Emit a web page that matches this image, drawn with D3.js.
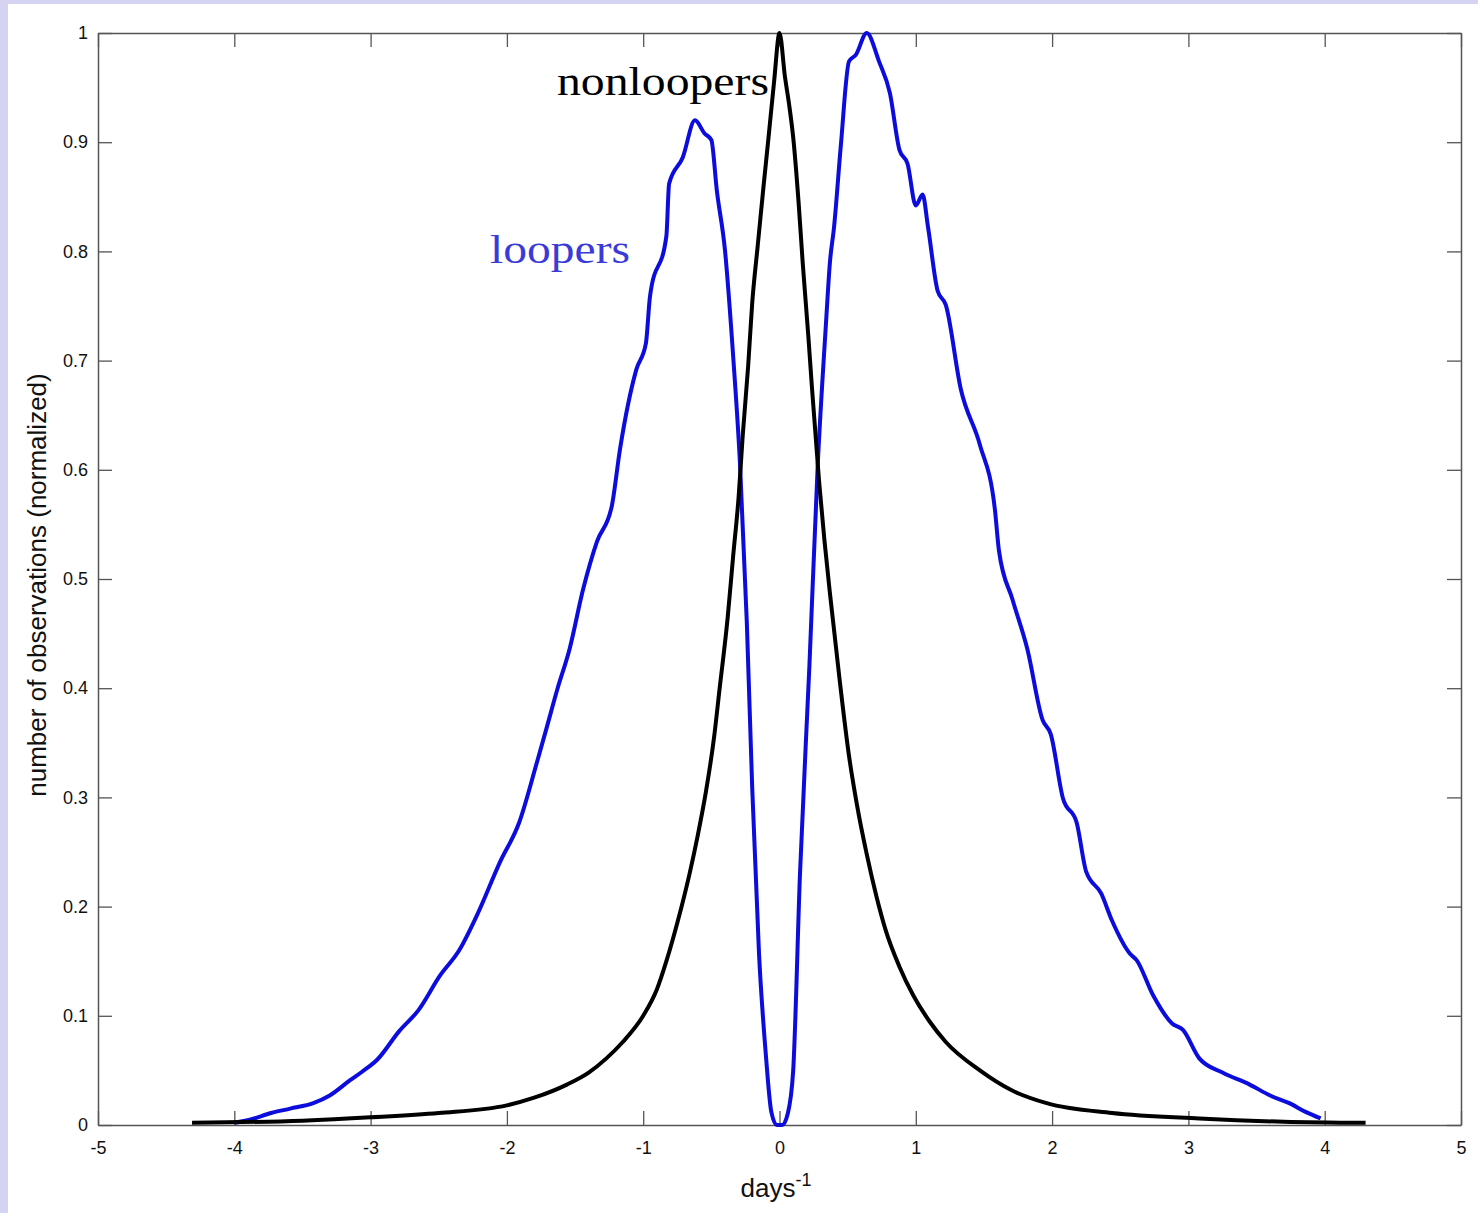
<!DOCTYPE html>
<html>
<head>
  <title>loopers vs nonloopers</title>
  <meta charset="utf-8">
  <script type="text/javascript" src="https://d3js.org/d3.v7.min.js"></script>
  <style>
    body { margin: 0; background: #d4d4f2; }
    svg { display: block; }
  </style>
</head>
<body>
<script>

// looper curve (blue)
var loopersX = [-4.00, -3.88, -3.73, -3.59, -3.42, -3.30, -3.15, -3.06, -2.95, -2.79,
  -2.65, -2.49, -2.35, -2.22, -2.05, -1.91, -1.78, -1.71, -1.63, -1.54,
  -1.44, -1.34, -1.23, -1.17, -1.05, -0.98, -0.95, -0.83, -0.81, -0.71,
  -0.62, -0.55, -0.50, -0.46, -0.40, -0.34, -0.29, -0.24, -0.20, -0.15,
  -0.10, -0.06, -0.02, 0.02, 0.06, 0.10, 0.15, 0.22, 0.28, 0.34,
  0.37, 0.40, 0.45, 0.51, 0.56, 0.64, 0.73, 0.81, 0.88, 0.94,
  1.00, 1.05, 1.09, 1.16, 1.22, 1.33, 1.47, 1.58, 1.61, 1.71,
  1.82, 1.93, 1.99, 2.08, 2.18, 2.25, 2.36, 2.44, 2.57, 2.62,
  2.74, 2.88, 2.96, 3.08, 3.25, 3.45, 3.60, 3.74, 3.86, 3.97];
var loopersY = [0.002, 0.005, 0.011, 0.015, 0.020, 0.027, 0.041, 0.049, 0.060, 0.086,
  0.105, 0.137, 0.160, 0.192, 0.241, 0.277, 0.332, 0.363, 0.399, 0.436,
  0.491, 0.534, 0.567, 0.619, 0.692, 0.716, 0.759, 0.814, 0.862, 0.886,
  0.920, 0.908, 0.902, 0.856, 0.801, 0.704, 0.606, 0.461, 0.308, 0.156,
  0.064, 0.012, 0.000, 0.000, 0.010, 0.049, 0.229, 0.422, 0.603, 0.732,
  0.790, 0.822, 0.897, 0.974, 0.980, 1.000, 0.974, 0.945, 0.893, 0.880,
  0.842, 0.852, 0.822, 0.764, 0.751, 0.674, 0.623, 0.564, 0.526, 0.481,
  0.435, 0.371, 0.358, 0.299, 0.277, 0.232, 0.212, 0.187, 0.157, 0.151,
  0.119, 0.093, 0.087, 0.061, 0.048, 0.037, 0.027, 0.020, 0.012, 0.006];

// nonlooper curve (black)
var nonloopersX = [-4.31, -3.50, -3.00, -2.50, -2.00, -1.80, -1.56, -1.40, -1.27, -1.15,
  -1.00, -0.90, -0.83, -0.75, -0.66, -0.60, -0.54, -0.48, -0.44, -0.38,
  -0.34, -0.30, -0.27, -0.23, -0.20, -0.16, -0.12, -0.08, -0.04, 0.00,
  0.04, 0.07, 0.10, 0.14, 0.17, 0.21, 0.24, 0.29, 0.33, 0.37,
  0.44, 0.51, 0.57, 0.64, 0.71, 0.78, 0.88, 0.98, 1.10, 1.22,
  1.47, 1.70, 1.96, 2.44, 3.08, 3.70, 4.30];
var nonloopersY = [0.002, 0.004, 0.007, 0.011, 0.018, 0.025, 0.037, 0.048, 0.061, 0.076,
  0.100, 0.124, 0.150, 0.185, 0.230, 0.265, 0.305, 0.355, 0.399, 0.465,
  0.521, 0.575, 0.631, 0.695, 0.753, 0.805, 0.856, 0.905, 0.955, 1.000,
  0.960, 0.935, 0.905, 0.845, 0.790, 0.725, 0.672, 0.590, 0.535, 0.487,
  0.409, 0.338, 0.292, 0.248, 0.210, 0.178, 0.145, 0.119, 0.095, 0.076,
  0.050, 0.032, 0.020, 0.011, 0.006, 0.003, 0.002];

var xTicks = [-5, -4, -3, -2, -1, 0, 1, 2, 3, 4, 5];
var xTickLabels = ["-5", "-4", "-3", "-2", "-1", "0", "1", "2", "3", "4", "5"];
var yTicks = [0, 0.1, 0.2, 0.3, 0.4, 0.5, 0.6, 0.7, 0.8, 0.9, 1];
var yTickLabels = ["0", "0.1", "0.2", "0.3", "0.4", "0.5", "0.6", "0.7", "0.8", "0.9", "1"];

var svgWidth = 1478, svgHeight = 1213;
var plot = {left: 98, right: 1461, top: 33, bottom: 1125};

var svg = d3.select('body').append('svg')
    .attr('width', svgWidth)
    .attr('height', svgHeight);

// white page with lavender strip at top and left
svg.append('rect')
    .attr('x', 8).attr('y', 4)
    .attr('width', svgWidth - 8).attr('height', svgHeight - 4)
    .attr('fill', '#ffffff');

var x = d3.scaleLinear().domain([-5, 5]).range([plot.left, plot.right]);
var y = d3.scaleLinear().domain([0, 1]).range([plot.bottom, plot.top]);

var axisFont = "'Liberation Sans', Arial, Helvetica, sans-serif";
var axisColor = '#555555';

function styleAxis(g) {
  g.select('.domain').attr('stroke', axisColor).attr('stroke-width', 1.5);
  g.selectAll('.tick line').attr('stroke', axisColor).attr('stroke-width', 1.3);
  g.selectAll('.tick text').attr('fill', '#111').style('font', '18px ' + axisFont);
}

svg.append('g')
    .attr('transform', 'translate(0,' + plot.bottom + ')')
    .call(d3.axisBottom(x).tickValues(xTicks).tickSizeInner(-14).tickSizeOuter(0).tickPadding(16)
      .tickFormat(function(d, i) { return xTickLabels[i]; }))
    .call(styleAxis);

svg.append('g')
    .attr('transform', 'translate(0,' + plot.top + ')')
    .call(d3.axisTop(x).tickValues(xTicks).tickSizeInner(-14).tickSizeOuter(0).tickFormat(''))
    .call(styleAxis);

svg.append('g')
    .attr('transform', 'translate(' + plot.left + ',0)')
    .call(d3.axisLeft(y).tickValues(yTicks).tickSizeInner(-14).tickSizeOuter(0).tickPadding(10)
      .tickFormat(function(d, i) { return yTickLabels[i]; }))
    .call(styleAxis);

svg.append('g')
    .attr('transform', 'translate(' + plot.right + ',0)')
    .call(d3.axisRight(y).tickValues(yTicks).tickSizeInner(-14).tickSizeOuter(0).tickFormat(''))
    .call(styleAxis);

var line = d3.line()
    .curve(d3.curveMonotoneX)
    .x(function(d) { return x(d[0]); })
    .y(function(d) { return y(d[1]); });

var loopers = d3.zip(loopersX, loopersY);
var nonloopers = d3.zip(nonloopersX, nonloopersY);

svg.append('path')
    .datum(loopers)
    .attr('d', line)
    .attr('fill', 'none')
    .attr('stroke', '#0c0cdc')
    .attr('stroke-width', 4)
    .attr('stroke-linejoin', 'round');

svg.append('path')
    .datum(nonloopers)
    .attr('d', line)
    .attr('fill', 'none')
    .attr('stroke', '#000000')
    .attr('stroke-width', 4)
    .attr('stroke-linejoin', 'round');

// curve labels
svg.append('text')
    .attr('x', 557).attr('y', 95)
    .attr('textLength', 212).attr('lengthAdjust', 'spacingAndGlyphs')
    .style('font', "40px 'Liberation Serif', 'Times New Roman', serif")
    .attr('fill', '#000')
    .text('nonloopers');

svg.append('text')
    .attr('x', 490).attr('y', 263)
    .attr('textLength', 140).attr('lengthAdjust', 'spacingAndGlyphs')
    .style('font', "40px 'Liberation Serif', 'Times New Roman', serif")
    .attr('fill', '#3a3ad8')
    .text('loopers');

// axis titles
var xTitle = svg.append('text')
    .attr('x', 776).attr('y', 1197)
    .attr('text-anchor', 'middle')
    .style('font', '26px ' + axisFont)
    .attr('fill', '#111');
xTitle.append('tspan').text('days');
xTitle.append('tspan').attr('dy', -11).style('font-size', '18px').text('-1');

svg.append('text')
    .attr('transform', 'translate(46,' + 585 + ') rotate(-90)')
    .attr('text-anchor', 'middle')
    .style('font', '26px ' + axisFont)
    .attr('fill', '#111')
    .text('number of observations (normalized)');

</script>
</body>
</html>
